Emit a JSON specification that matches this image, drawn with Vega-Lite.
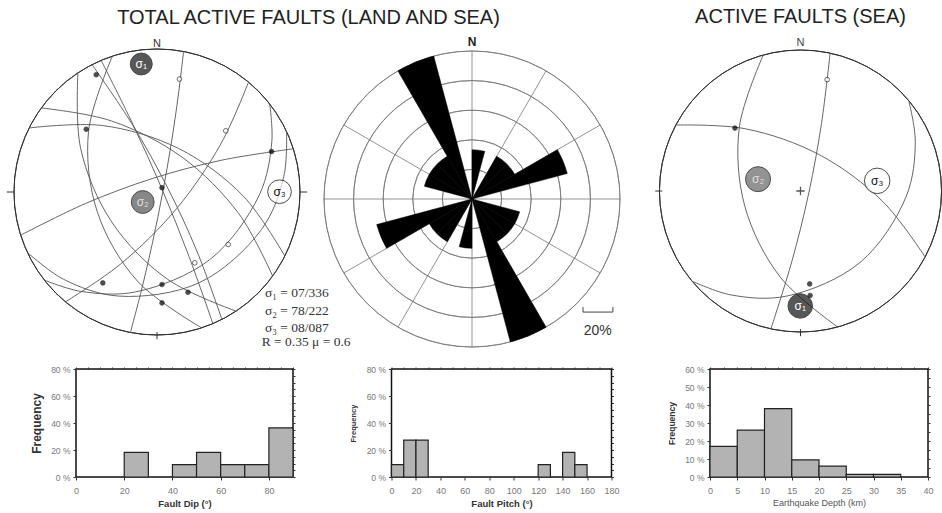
{
"$schema": "https://vega.github.io/schema/vega-lite/v6.json",
"background": "white",
"padding": {"left": 6, "top": 6, "right": 0, "bottom": 0},
"config": {"view": {"stroke": null}, "font": "Liberation Sans", "title": {"font": "Liberation Sans"}, "axis": {"labelFont": "Liberation Sans", "titleFont": "Liberation Sans"}},
"spacing": 7,
"vconcat": [
{
"hconcat": [
{
"width": 162, "height": 302,
"title": {"text": "TOTAL ACTIVE FAULTS (LAND AND SEA)", "fontSize": 20, "fontWeight": "normal", "color": "#222", "frame": "group", "anchor": "middle", "dx": 151.5, "offset": 10},
"resolve": {"scale": {"fill": "independent", "color": "independent", "size": "independent", "strokeWidth": "independent"}},
"layer": [
{"data": {"values": [{}]},
 "mark": {"type": "arc", "filled": false, "stroke": "#333", "strokeWidth": 1},
 "encoding": {"theta": {"datum": 0, "type": "quantitative", "scale": {"domain": [0, 360]}, "stack": null}, "theta2": {"datum": 360},
  "radius": {"datum": 100, "type": "quantitative", "scale": {"type": "linear", "domain": [0, 100], "range": [0, 143], "zero": true}}, "radius2": {"datum": 100}}},
{"data": {"values": [{"x": -105, "y": 0, "x2": -100, "y2": 0}, {"x": 100, "y": 0, "x2": 105, "y2": 0}, {"x": 0, "y": -98, "x2": 0, "y2": -103}]},
 "mark": {"type": "rule", "stroke": "#333", "strokeWidth": 1},
 "encoding": {"x": {"field": "x", "type": "quantitative", "scale": {"domain": [-56.643, 56.643], "nice": false, "zero": false}, "axis": null},
  "y": {"field": "y", "type": "quantitative", "scale": {"domain": [-105.594, 105.594], "nice": false, "zero": false}, "axis": null},
  "x2": {"field": "x2"}, "y2": {"field": "y2"}}},
{"data": {"values": [
 {"f": 1, "i": 1, "x": -31.2, "y": 95.0}, {"f": 1, "i": 2, "x": -47.9, "y": 42.2}, {"f": 1, "i": 3, "x": -41.8, "y": -13.7}, {"f": 1, "i": 4, "x": -13.6, "y": -62.4}, {"f": 1, "i": 5, "x": 31.2, "y": -95.0},
 {"f": 2, "i": 1, "x": 18.6, "y": 98.3}, {"f": 2, "i": 2, "x": 15.0, "y": 68.4}, {"f": 2, "i": 3, "x": 9.95, "y": 33.7}, {"f": 2, "i": 4, "x": 3.9, "y": -0.7}, {"f": 2, "i": 5, "x": -3.05, "y": -35.0}, {"f": 2, "i": 6, "x": -11.0, "y": -69.2}, {"f": 2, "i": 7, "x": -18.6, "y": -98.3},
 {"f": 3, "i": 1, "x": -55.3, "y": 83.3}, {"f": 3, "i": 2, "x": -53.4, "y": 30.5}, {"f": 3, "i": 3, "x": -31.65, "y": -21.0}, {"f": 3, "i": 4, "x": 7.5, "y": -61.1}, {"f": 3, "i": 5, "x": 55.3, "y": -83.3},
 {"f": 4, "i": 1, "x": -45.4, "y": 89.1}, {"f": 4, "i": 2, "x": -17.3, "y": 47.3}, {"f": 4, "i": 3, "x": 7.1, "y": 3.6}, {"f": 4, "i": 4, "x": 28.1, "y": -41.8}, {"f": 4, "i": 5, "x": 45.4, "y": -89.1},
 {"f": 5, "i": 1, "x": -39.1, "y": 92.1}, {"f": 5, "i": 2, "x": -16.8, "y": 47.2}, {"f": 5, "i": 3, "x": 3.7, "y": 1.6}, {"f": 5, "i": 4, "x": 22.3, "y": -44.9}, {"f": 5, "i": 5, "x": 39.1, "y": -92.1},
 {"f": 6, "i": 1, "x": 64.0, "y": 76.8}, {"f": 6, "i": 2, "x": 44.9, "y": 34.1}, {"f": 6, "i": 3, "x": 13.8, "y": -11.5}, {"f": 6, "i": 4, "x": -25.5, "y": -50.4}, {"f": 6, "i": 5, "x": -64.0, "y": -76.8},
 {"f": 7, "i": 1, "x": -80.9, "y": 58.8}, {"f": 7, "i": 2, "x": -31.9, "y": 49.7}, {"f": 7, "i": 3, "x": 17.6, "y": 24.3}, {"f": 7, "i": 4, "x": 57.1, "y": -15.0}, {"f": 7, "i": 5, "x": 80.9, "y": -58.8},
 {"f": 8, "i": 1, "x": -89.4, "y": 44.8}, {"f": 8, "i": 2, "x": -38.2, "y": 46.5}, {"f": 8, "i": 3, "x": 15.2, "y": 30.4}, {"f": 8, "i": 4, "x": 60.2, "y": -2.7}, {"f": 8, "i": 5, "x": 89.4, "y": -44.8},
 {"f": 9, "i": 1, "x": 95.3, "y": 30.2}, {"f": 9, "i": 2, "x": 45.4, "y": 22.3}, {"f": 9, "i": 3, "x": -3.0, "y": 9.5}, {"f": 9, "i": 4, "x": -49.9, "y": -8.0}, {"f": 9, "i": 5, "x": -95.3, "y": -30.2},
 {"f": 10, "i": 1, "x": 78.8, "y": 61.6}, {"f": 10, "i": 2, "x": 80.3, "y": 35.3}, {"f": 10, "i": 3, "x": 71.5, "y": -2.2}, {"f": 10, "i": 4, "x": 36.9, "y": -47.3}, {"f": 10, "i": 5, "x": -15.2, "y": -69.9}, {"f": 10, "i": 6, "x": -53.7, "y": -69.4}, {"f": 10, "i": 7, "x": -78.8, "y": -61.6},
 {"f": 11, "i": 1, "x": 90.6, "y": 42.3}, {"f": 11, "i": 2, "x": 88.7, "y": 10.9}, {"f": 11, "i": 3, "x": 73.0, "y": -26.3}, {"f": 11, "i": 4, "x": 29.6, "y": -63.4}, {"f": 11, "i": 5, "x": -26.7, "y": -72.8}, {"f": 11, "i": 6, "x": -65.4, "y": -61.0}, {"f": 11, "i": 7, "x": -90.6, "y": -42.3}
 ]},
 "mark": {"type": "line", "interpolate": "catmull-rom", "stroke": "#555", "strokeWidth": 0.9},
 "encoding": {"x": {"field": "x", "type": "quantitative", "scale": {"domain": [-56.643, 56.643], "nice": false, "zero": false}, "axis": null},
  "y": {"field": "y", "type": "quantitative", "scale": {"domain": [-105.594, 105.594], "nice": false, "zero": false}, "axis": null},
  "detail": {"field": "f", "type": "nominal"}, "order": {"field": "i", "type": "quantitative"}}},
{"data": {"values": [
 {"x": -42.5, "y": 82.0, "k": "s"}, {"x": -49.5, "y": 43.9, "k": "s"}, {"x": 80.1, "y": 28.3, "k": "s"}, {"x": 3.5, "y": 3.0, "k": "s"},
 {"x": -37.9, "y": -63.6, "k": "s"}, {"x": 3.5, "y": -64.7, "k": "s"}, {"x": 21.7, "y": -70.1, "k": "s"}, {"x": 3.5, "y": -77.6, "k": "s"},
 {"x": 15.7, "y": 79.0, "k": "o"}, {"x": 48.1, "y": 42.8, "k": "o"}, {"x": 49.8, "y": -36.7, "k": "o"}, {"x": 26.4, "y": -49.5, "k": "o"}]},
 "mark": {"type": "point", "shape": "circle", "size": 22, "filled": true, "stroke": "black", "strokeWidth": 0.8},
 "encoding": {"x": {"field": "x", "type": "quantitative", "scale": {"domain": [-56.643, 56.643], "nice": false, "zero": false}, "axis": null},
  "y": {"field": "y", "type": "quantitative", "scale": {"domain": [-105.594, 105.594], "nice": false, "zero": false}, "axis": null},
  "fill": {"field": "k", "type": "nominal", "scale": {"domain": ["s", "o"], "range": ["black", "white"]}, "legend": null}}},
{"data": {"values": [{"x": -11, "y": 89.5, "s": "σ1", "lab": "σ₁"}, {"x": -10, "y": -7, "s": "σ2", "lab": "σ₂"}, {"x": 85.7, "y": 0.2, "s": "σ3", "lab": "σ₃"}]},
 "layer": [
  {"mark": {"type": "point", "shape": "circle", "filled": true, "stroke": "black"},
   "encoding": {"x": {"field": "x", "type": "quantitative", "scale": {"domain": [-56.643, 56.643], "nice": false, "zero": false}, "axis": null},
    "y": {"field": "y", "type": "quantitative", "scale": {"domain": [-105.594, 105.594], "nice": false, "zero": false}, "axis": null},
    "fill": {"field": "s", "type": "nominal", "scale": {"domain": ["σ1", "σ2", "σ3"], "range": ["#111", "#555", "white"]}, "legend": null},
    "size": {"field": "s", "type": "nominal", "scale": {"domain": ["σ1", "σ2", "σ3"], "range": [480, 560, 500]}, "legend": null},
    "strokeWidth": {"field": "s", "type": "nominal", "scale": {"domain": ["σ1", "σ2", "σ3"], "range": [1, 1, 2.6]}, "legend": null}}},
  {"mark": {"type": "text", "fontSize": 12, "font": "Liberation Sans"},
   "encoding": {"x": {"field": "x", "type": "quantitative", "scale": {"domain": [-56.643, 56.643], "nice": false, "zero": false}, "axis": null},
    "y": {"field": "y", "type": "quantitative", "scale": {"domain": [-105.594, 105.594], "nice": false, "zero": false}, "axis": null},
    "text": {"field": "lab"},
    "color": {"field": "s", "type": "nominal", "scale": {"domain": ["σ1", "σ2", "σ3"], "range": ["white", "#ddd", "#111"]}, "legend": null}}}
 ]},
{"data": {"values": [{"x": 0, "y": 101.2, "t": "N"}]},
 "mark": {"type": "text", "baseline": "alphabetic", "fontSize": 11, "color": "#333"},
 "encoding": {"x": {"field": "x", "type": "quantitative", "scale": {"domain": [-56.643, 56.643], "nice": false, "zero": false}, "axis": null},
  "y": {"field": "y", "type": "quantitative", "scale": {"domain": [-105.594, 105.594], "nice": false, "zero": false}, "axis": null}, "text": {"field": "t"}}},
{"data": {"values": [{"x": 75.5, "y": -73.6, "t": "σ₁ = 07/336"}, {"x": 75.5, "y": -85.8, "t": "σ₂ = 78/222"}, {"x": 75.5, "y": -98.1, "t": "σ₃ = 08/087"}, {"x": 73.2, "y": -107.5, "t": "R = 0.35  μ = 0.6"}]},
 "mark": {"type": "text", "align": "left", "baseline": "alphabetic", "font": "Liberation Serif", "fontSize": 13.5, "color": "#333"},
 "encoding": {"x": {"field": "x", "type": "quantitative", "scale": {"domain": [-56.643, 56.643], "nice": false, "zero": false}, "axis": null},
  "y": {"field": "y", "type": "quantitative", "scale": {"domain": [-105.594, 105.594], "nice": false, "zero": false}, "axis": null}, "text": {"field": "t"}}}
]
},
{
"width": 468, "height": 316,
"resolve": {"scale": {"radius": "independent"}},
"layer": [
{"data": {"values": [{"r": 1}, {"r": 2}, {"r": 3}, {"r": 4}, {"r": 5}]},
 "mark": {"type": "arc", "filled": false, "stroke": "#777", "strokeWidth": 0.8},
 "encoding": {"theta": {"datum": 0, "type": "quantitative", "scale": {"domain": [0, 360]}, "stack": null}, "theta2": {"datum": 360},
  "radius": {"field": "r", "type": "quantitative", "scale": {"type": "linear", "domain": [0, 5], "range": [0, 148], "zero": true}}, "radius2": {"field": "r"}}},
{"data": {"values": [{"x": 0, "y": 5, "x2": 0, "y2": -5}, {"x": 2.5, "y": 4.33, "x2": -2.5, "y2": -4.33}, {"x": 4.33, "y": 2.5, "x2": -4.33, "y2": -2.5}, {"x": 5, "y": 0, "x2": -5, "y2": 0}, {"x": 4.33, "y": -2.5, "x2": -4.33, "y2": 2.5}, {"x": 2.5, "y": -4.33, "x2": -2.5, "y2": 4.33}]},
 "mark": {"type": "rule", "stroke": "#777", "strokeWidth": 0.8},
 "encoding": {"x": {"field": "x", "type": "quantitative", "scale": {"domain": [-7.905, 7.905], "nice": false, "zero": false}, "axis": null},
  "y": {"field": "y", "type": "quantitative", "scale": {"domain": [-5.338, 5.338], "nice": false, "zero": false}, "axis": null},
  "x2": {"field": "x2"}, "y2": {"field": "y2"}}},
{"data": {"values": [
 {"a0": 0, "a1": 15, "p": 9.09}, {"a0": 180, "a1": 195, "p": 9.09},
 {"a0": 30, "a1": 45, "p": 9.09}, {"a0": 210, "a1": 225, "p": 9.09},
 {"a0": 45, "a1": 60, "p": 9.09}, {"a0": 225, "a1": 240, "p": 9.09},
 {"a0": 60, "a1": 75, "p": 18.18}, {"a0": 240, "a1": 255, "p": 18.18},
 {"a0": 105, "a1": 120, "p": 9.09}, {"a0": 285, "a1": 300, "p": 9.09},
 {"a0": 120, "a1": 135, "p": 9.09}, {"a0": 300, "a1": 315, "p": 9.09},
 {"a0": 135, "a1": 150, "p": 9.09}, {"a0": 315, "a1": 330, "p": 9.09},
 {"a0": 150, "a1": 165, "p": 27.27}, {"a0": 330, "a1": 345, "p": 27.27}]},
 "mark": {"type": "arc", "fill": "black", "stroke": "black", "strokeWidth": 0.5},
 "encoding": {"theta": {"field": "a0", "type": "quantitative", "scale": {"domain": [0, 360]}, "stack": null}, "theta2": {"field": "a1"},
  "radius": {"field": "p", "type": "quantitative", "scale": {"type": "linear", "domain": [0, 27.27], "range": [0, 148], "zero": true}}}},
{"data": {"values": [{"x": 0, "y": 5.17, "t": "N"}]},
 "mark": {"type": "text", "baseline": "alphabetic", "fontSize": 12, "fontWeight": "bold", "color": "#222"},
 "encoding": {"x": {"field": "x", "type": "quantitative", "scale": {"domain": [-7.905, 7.905], "nice": false, "zero": false}, "axis": null},
  "y": {"field": "y", "type": "quantitative", "scale": {"domain": [-5.338, 5.338], "nice": false, "zero": false}, "axis": null}, "text": {"field": "t"}}},
{"data": {"values": [{"x": 3.75, "y": -3.82, "x2": 4.76, "y2": -3.82}, {"x": 3.75, "y": -3.82, "x2": 3.75, "y2": -3.65}, {"x": 4.76, "y": -3.82, "x2": 4.76, "y2": -3.65}]},
 "mark": {"type": "rule", "stroke": "#444", "strokeWidth": 1},
 "encoding": {"x": {"field": "x", "type": "quantitative", "scale": {"domain": [-7.905, 7.905], "nice": false, "zero": false}, "axis": null},
  "y": {"field": "y", "type": "quantitative", "scale": {"domain": [-5.338, 5.338], "nice": false, "zero": false}, "axis": null},
  "x2": {"field": "x2"}, "y2": {"field": "y2"}}},
{"data": {"values": [{"x": 4.25, "y": -4.59, "t": "20%"}]},
 "mark": {"type": "text", "baseline": "alphabetic", "fontSize": 14, "color": "#333"},
 "encoding": {"x": {"field": "x", "type": "quantitative", "scale": {"domain": [-7.905, 7.905], "nice": false, "zero": false}, "axis": null},
  "y": {"field": "y", "type": "quantitative", "scale": {"domain": [-5.338, 5.338], "nice": false, "zero": false}, "axis": null}, "text": {"field": "t"}}}
]
},
{
"width": 189, "height": 300,
"title": {"text": "ACTIVE FAULTS (SEA)", "fontSize": 20, "fontWeight": "normal", "color": "#222", "frame": "group", "anchor": "middle", "offset": 10},
"resolve": {"scale": {"fill": "independent", "color": "independent", "size": "independent", "strokeWidth": "independent"}},
"layer": [
{"data": {"values": [{}]},
 "mark": {"type": "arc", "filled": false, "stroke": "#333", "strokeWidth": 1},
 "encoding": {"theta": {"datum": 0, "type": "quantitative", "scale": {"domain": [0, 360]}, "stack": null}, "theta2": {"datum": 360},
  "radius": {"datum": 100, "type": "quantitative", "scale": {"type": "linear", "domain": [0, 100], "range": [0, 141], "zero": true}}, "radius2": {"datum": 100}}},
{"data": {"values": [{"x": -103, "y": 0, "x2": -98, "y2": 0}, {"x": 0, "y": -98, "x2": 0, "y2": -103}]},
 "mark": {"type": "rule", "stroke": "#333", "strokeWidth": 1},
 "encoding": {"x": {"field": "x", "type": "quantitative", "scale": {"domain": [-67.021, 67.021], "nice": false, "zero": false}, "axis": null},
  "y": {"field": "y", "type": "quantitative", "scale": {"domain": [-106.383, 106.383], "nice": false, "zero": false}, "axis": null},
  "x2": {"field": "x2"}, "y2": {"field": "y2"}}},
{"data": {"values": [
 {"f": 1, "i": 1, "x": -26.4, "y": 96.5}, {"f": 1, "i": 2, "x": -43.4, "y": 45.2}, {"f": 1, "i": 3, "x": -39.5, "y": -10.8}, {"f": 1, "i": 4, "x": -14.4, "y": -61.0}, {"f": 1, "i": 5, "x": 26.4, "y": -96.5},
 {"f": 2, "i": 1, "x": 21.0, "y": 97.8}, {"f": 2, "i": 2, "x": 14.9, "y": 47.9}, {"f": 2, "i": 3, "x": 5.9, "y": -1.3}, {"f": 2, "i": 4, "x": -6.1, "y": -49.8}, {"f": 2, "i": 5, "x": -21.0, "y": -97.8},
 {"f": 3, "i": 1, "x": -88.4, "y": 46.8}, {"f": 3, "i": 2, "x": -38.9, "y": 44.1}, {"f": 3, "i": 3, "x": 13.6, "y": 25.6}, {"f": 3, "i": 4, "x": 58.3, "y": -7.4}, {"f": 3, "i": 5, "x": 88.4, "y": -46.8},
 {"f": 4, "i": 1, "x": 76.8, "y": 64.0}, {"f": 4, "i": 2, "x": 81.4, "y": 35.1}, {"f": 4, "i": 3, "x": 74.9, "y": -4.0}, {"f": 4, "i": 4, "x": 42.2, "y": -50.7}, {"f": 4, "i": 5, "x": -9.6, "y": -74.5}, {"f": 4, "i": 6, "x": -49.3, "y": -73.7}, {"f": 4, "i": 7, "x": -76.8, "y": -64.0}
 ]},
 "mark": {"type": "line", "interpolate": "catmull-rom", "stroke": "#555", "strokeWidth": 0.9},
 "encoding": {"x": {"field": "x", "type": "quantitative", "scale": {"domain": [-67.021, 67.021], "nice": false, "zero": false}, "axis": null},
  "y": {"field": "y", "type": "quantitative", "scale": {"domain": [-106.383, 106.383], "nice": false, "zero": false}, "axis": null},
  "detail": {"field": "f", "type": "nominal"}, "order": {"field": "i", "type": "quantitative"}}},
{"data": {"values": [{"x": 18.9, "y": 79.0, "k": "o"}, {"x": -46.5, "y": 44.6, "k": "s"}, {"x": 6.5, "y": -65.9, "k": "s"}, {"x": 6.8, "y": -74.1, "k": "s"}]},
 "mark": {"type": "point", "shape": "circle", "size": 22, "filled": true, "stroke": "black", "strokeWidth": 0.8},
 "encoding": {"x": {"field": "x", "type": "quantitative", "scale": {"domain": [-67.021, 67.021], "nice": false, "zero": false}, "axis": null},
  "y": {"field": "y", "type": "quantitative", "scale": {"domain": [-106.383, 106.383], "nice": false, "zero": false}, "axis": null},
  "fill": {"field": "k", "type": "nominal", "scale": {"domain": ["s", "o"], "range": ["black", "white"]}, "legend": null}}},
{"data": {"values": [{"x": 0, "y": 0}]},
 "mark": {"type": "point", "shape": "M-1,0L1,0M0,-1L0,1", "size": 70, "filled": false, "stroke": "#111", "strokeWidth": 1.3},
 "encoding": {"x": {"field": "x", "type": "quantitative", "scale": {"domain": [-67.021, 67.021], "nice": false, "zero": false}, "axis": null},
  "y": {"field": "y", "type": "quantitative", "scale": {"domain": [-106.383, 106.383], "nice": false, "zero": false}, "axis": null}}},
{"data": {"values": [{"x": -0.2, "y": -81.5, "s": "σ1", "lab": "σ₁"}, {"x": -30.1, "y": 8.4, "s": "σ2", "lab": "σ₂"}, {"x": 54.4, "y": 7.2, "s": "σ3", "lab": "σ₃"}]},
 "layer": [
  {"mark": {"type": "point", "shape": "circle", "filled": true, "stroke": "black"},
   "encoding": {"x": {"field": "x", "type": "quantitative", "scale": {"domain": [-67.021, 67.021], "nice": false, "zero": false}, "axis": null},
    "y": {"field": "y", "type": "quantitative", "scale": {"domain": [-106.383, 106.383], "nice": false, "zero": false}, "axis": null},
    "fill": {"field": "s", "type": "nominal", "scale": {"domain": ["σ1", "σ2", "σ3"], "range": ["#111", "#666", "white"]}, "legend": null},
    "size": {"field": "s", "type": "nominal", "scale": {"domain": ["σ1", "σ2", "σ3"], "range": [600, 650, 520]}, "legend": null},
    "strokeWidth": {"field": "s", "type": "nominal", "scale": {"domain": ["σ1", "σ2", "σ3"], "range": [1, 1, 1.2]}, "legend": null}}},
  {"mark": {"type": "text", "fontSize": 12, "font": "Liberation Sans"},
   "encoding": {"x": {"field": "x", "type": "quantitative", "scale": {"domain": [-67.021, 67.021], "nice": false, "zero": false}, "axis": null},
    "y": {"field": "y", "type": "quantitative", "scale": {"domain": [-106.383, 106.383], "nice": false, "zero": false}, "axis": null},
    "text": {"field": "lab"},
    "color": {"field": "s", "type": "nominal", "scale": {"domain": ["σ1", "σ2", "σ3"], "range": ["white", "#ddd", "#111"]}, "legend": null}}}
 ]},
{"data": {"values": [{"x": 0, "y": 103, "t": "N"}]},
 "mark": {"type": "text", "baseline": "alphabetic", "fontSize": 11, "color": "#444"},
 "encoding": {"x": {"field": "x", "type": "quantitative", "scale": {"domain": [-67.021, 67.021], "nice": false, "zero": false}, "axis": null},
  "y": {"field": "y", "type": "quantitative", "scale": {"domain": [-106.383, 106.383], "nice": false, "zero": false}, "axis": null}, "text": {"field": "t"}}}
]
}
],
"spacing": 0,
"bounds": "flush"
},
{
"hconcat": [
{
"width": 217, "height": 108,
"view": {"stroke": "#111", "strokeWidth": 1.5},
"data": {"values": [{"b0": 20, "b1": 30, "pct": 18.2}, {"b0": 40, "b1": 50, "pct": 9.1}, {"b0": 50, "b1": 60, "pct": 18.2}, {"b0": 60, "b1": 70, "pct": 9.1}, {"b0": 70, "b1": 80, "pct": 9.1}, {"b0": 80, "b1": 90, "pct": 36.4}]},
"resolve": {"axis": {"x": "independent", "y": "independent"}},
"layer": [
{"mark": {"type": "bar", "fill": "#b3b3b3", "stroke": "#222", "strokeWidth": 1.2},
 "encoding": {
  "x": {"field": "b0", "type": "quantitative", "scale": {"domain": [0, 90], "nice": false, "zero": false},
   "axis": {"orient": "bottom", "values": [0, 20, 40, 60, 80], "title": "Fault Dip (°)", "titleFontSize": 9.5, "titleFontWeight": "bold", "titleColor": "#333", "titlePadding": 3, "labelFontSize": 9, "labelColor": "#777", "labelPadding": 6, "labelFlush": false, "tickSize": 3, "tickColor": "#333", "domain": false, "grid": false}},
  "x2": {"field": "b1"},
  "y": {"field": "pct", "type": "quantitative", "scale": {"domain": [0, 80], "nice": false},
   "axis": {"orient": "left", "values": [0, 20, 40, 60, 80], "labelExpr": "datum.value + ' %'", "title": "Frequency", "titleFontSize": 12, "titleFontWeight": "bold", "titleColor": "#333", "titlePadding": 7, "labelFontSize": 8.5, "labelColor": "#777", "labelPadding": 3, "tickSize": 3, "tickColor": "#333", "domain": false, "grid": false}},
  "y2": {"datum": 0}}},
{"mark": {"type": "bar", "opacity": 0},
 "encoding": {
  "x": {"field": "b0", "type": "quantitative", "scale": {"domain": [0, 90], "nice": false, "zero": false},
   "axis": {"orient": "top", "values": [0, 5, 10, 15, 20, 25, 30, 35, 40, 45, 50, 55, 60, 65, 70, 75, 80, 85, 90], "labels": false, "title": null, "tickSize": 2, "tickColor": "#333", "domain": false, "grid": false}},
  "x2": {"field": "b1"},
  "y": {"field": "pct", "type": "quantitative", "scale": {"domain": [0, 80], "nice": false},
   "axis": {"orient": "right", "values": [0, 5, 10, 15, 20, 25, 30, 35, 40, 45, 50, 55, 60, 65, 70, 75, 80], "labels": false, "title": null, "tickSize": 2, "tickColor": "#333", "domain": false, "grid": false}},
  "y2": {"datum": 0}}}
]
},
{
"width": 220, "height": 108,
"view": {"stroke": "#111", "strokeWidth": 1.5},
"data": {"values": [{"b0": 0, "b1": 10, "pct": 9.1}, {"b0": 10, "b1": 20, "pct": 27.3}, {"b0": 20, "b1": 30, "pct": 27.3}, {"b0": 120, "b1": 130, "pct": 9.1}, {"b0": 140, "b1": 150, "pct": 18.2}, {"b0": 150, "b1": 160, "pct": 9.1}]},
"resolve": {"axis": {"x": "independent", "y": "independent"}},
"layer": [
{"mark": {"type": "bar", "fill": "#b3b3b3", "stroke": "#222", "strokeWidth": 1.2},
 "encoding": {
  "x": {"field": "b0", "type": "quantitative", "scale": {"domain": [0, 180], "nice": false, "zero": false},
   "axis": {"orient": "bottom", "values": [0, 20, 40, 60, 80, 100, 120, 140, 160, 180], "title": "Fault Pitch (°)", "titleFontSize": 9.5, "titleFontWeight": "bold", "titleColor": "#333", "titlePadding": 3, "labelFontSize": 9, "labelColor": "#777", "labelPadding": 6, "labelFlush": false, "tickSize": 3, "tickColor": "#333", "domain": false, "grid": false}},
  "x2": {"field": "b1"},
  "y": {"field": "pct", "type": "quantitative", "scale": {"domain": [0, 80], "nice": false},
   "axis": {"orient": "left", "values": [0, 20, 40, 60, 80], "labelExpr": "datum.value + ' %'", "title": "Frequency", "titleFontSize": 7.5, "titleFontWeight": "bold", "titleColor": "#333", "titlePadding": 9, "labelFontSize": 8.5, "labelColor": "#777", "labelPadding": 3, "tickSize": 3, "tickColor": "#333", "domain": false, "grid": false}},
  "y2": {"datum": 0}}},
{"mark": {"type": "bar", "opacity": 0},
 "encoding": {
  "x": {"field": "b0", "type": "quantitative", "scale": {"domain": [0, 180], "nice": false, "zero": false},
   "axis": {"orient": "top", "values": [0, 10, 20, 30, 40, 50, 60, 70, 80, 90, 100, 110, 120, 130, 140, 150, 160, 170, 180], "labels": false, "title": null, "tickSize": 2, "tickColor": "#333", "domain": false, "grid": false}},
  "x2": {"field": "b1"},
  "y": {"field": "pct", "type": "quantitative", "scale": {"domain": [0, 80], "nice": false},
   "axis": {"orient": "right", "values": [0, 5, 10, 15, 20, 25, 30, 35, 40, 45, 50, 55, 60, 65, 70, 75, 80], "labels": false, "title": null, "tickSize": 2, "tickColor": "#333", "domain": false, "grid": false}},
  "y2": {"datum": 0}}}
]
},
{
"width": 218, "height": 108,
"view": {"stroke": "#111", "strokeWidth": 1.5},
"data": {"values": [{"b0": 0, "b1": 5, "pct": 17}, {"b0": 5, "b1": 10, "pct": 26}, {"b0": 10, "b1": 15, "pct": 38}, {"b0": 15, "b1": 20, "pct": 9.5}, {"b0": 20, "b1": 25, "pct": 6}, {"b0": 25, "b1": 30, "pct": 1.5}, {"b0": 30, "b1": 35, "pct": 1.5}]},
"resolve": {"axis": {"x": "independent", "y": "independent"}},
"layer": [
{"mark": {"type": "bar", "fill": "#b3b3b3", "stroke": "#222", "strokeWidth": 1.2},
 "encoding": {
  "x": {"field": "b0", "type": "quantitative", "scale": {"domain": [0, 40], "nice": false, "zero": false},
   "axis": {"orient": "bottom", "values": [0, 5, 10, 15, 20, 25, 30, 35, 40], "title": "Earthquake Depth (km)", "titleFontSize": 9, "titleFontWeight": "normal", "titleColor": "#555", "titlePadding": 3, "labelFontSize": 9, "labelColor": "#777", "labelPadding": 6, "labelFlush": false, "tickSize": 3, "tickColor": "#333", "domain": false, "grid": false}},
  "x2": {"field": "b1"},
  "y": {"field": "pct", "type": "quantitative", "scale": {"domain": [0, 60], "nice": false},
   "axis": {"orient": "left", "values": [0, 10, 20, 30, 40, 50, 60], "labelExpr": "datum.value + ' %'", "title": "Frequency", "titleFontSize": 8.5, "titleFontWeight": "bold", "titleColor": "#333", "titlePadding": 8.5, "labelFontSize": 8.5, "labelColor": "#777", "labelPadding": 3, "tickSize": 3, "tickColor": "#333", "domain": false, "grid": false}},
  "y2": {"datum": 0}}},
{"mark": {"type": "bar", "opacity": 0},
 "encoding": {
  "x": {"field": "b0", "type": "quantitative", "scale": {"domain": [0, 40], "nice": false, "zero": false},
   "axis": {"orient": "top", "values": [0, 2.5, 5, 7.5, 10, 12.5, 15, 17.5, 20, 22.5, 25, 27.5, 30, 32.5, 35, 37.5, 40], "labels": false, "title": null, "tickSize": 2, "tickColor": "#333", "domain": false, "grid": false}},
  "x2": {"field": "b1"},
  "y": {"field": "pct", "type": "quantitative", "scale": {"domain": [0, 60], "nice": false},
   "axis": {"orient": "right", "values": [0, 5, 10, 15, 20, 25, 30, 35, 40, 45, 50, 55, 60], "labels": false, "title": null, "tickSize": 2, "tickColor": "#333", "domain": false, "grid": false}},
  "y2": {"datum": 0}}}
]
}
],
"spacing": 98.5,
"bounds": "flush"
}
]
}
